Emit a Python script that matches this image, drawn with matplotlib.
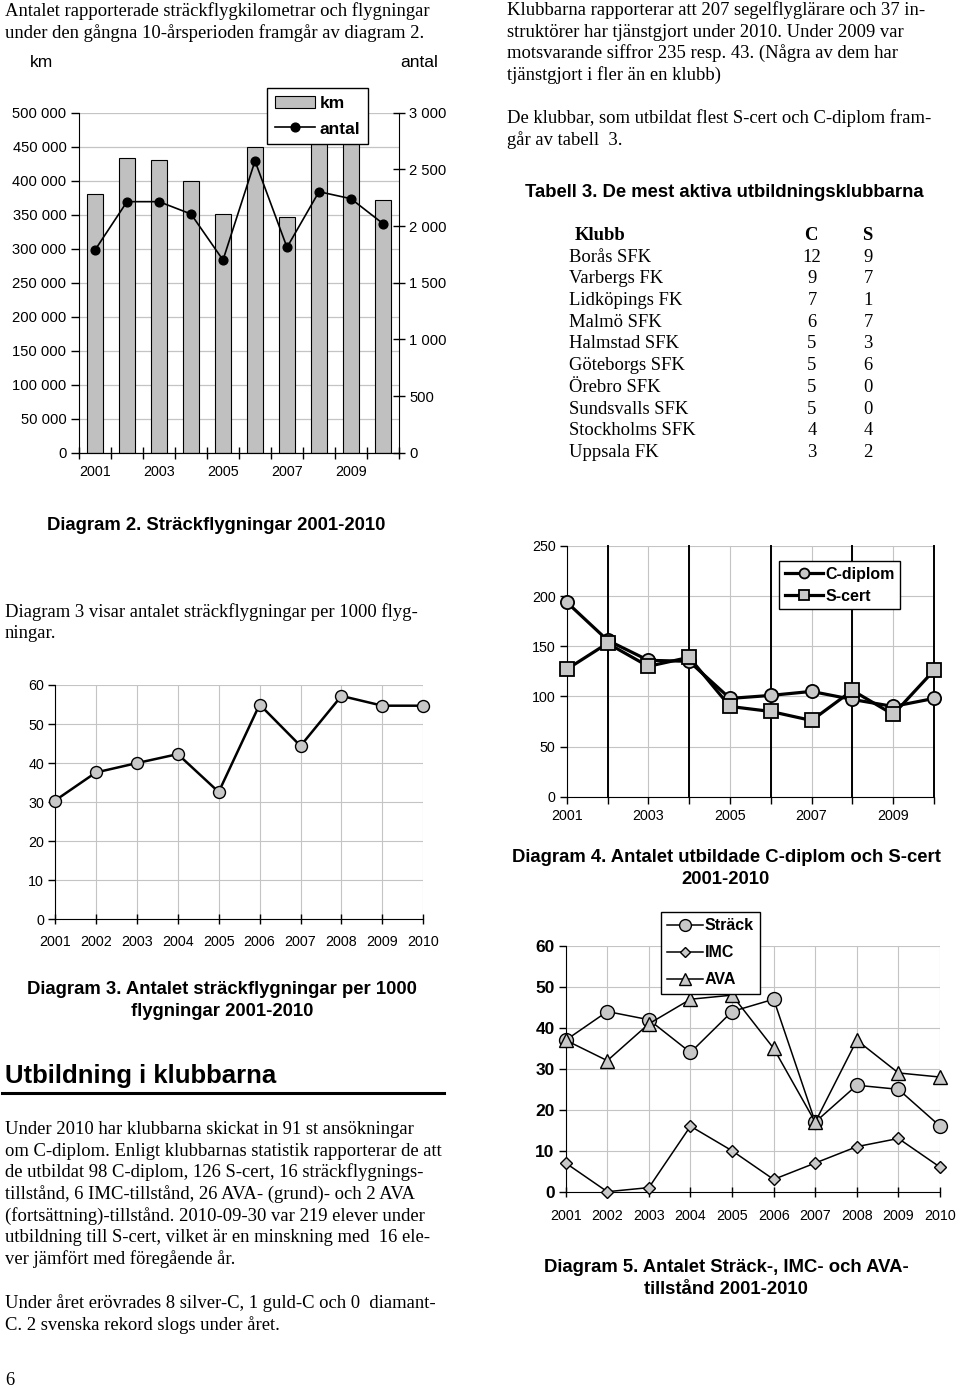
import numpy as np
import matplotlib
matplotlib.use("Agg")
import matplotlib.pyplot as plt
from matplotlib.ticker import FuncFormatter, MultipleLocator
from matplotlib.patches import Patch
from matplotlib.lines import Line2D

# Data read from the page
years = [2001, 2002, 2003, 2004, 2005, 2006, 2007, 2008, 2009, 2010]

# Diagram 2
km = [380000, 433000, 431000, 400000, 351000, 450000, 347000, 490000, 460000, 372000]
antal = [1788, 2215, 2215, 2106, 1700, 2574, 1812, 2303, 2241, 2021]

# Diagram 3
per_1000 = [30.4, 37.6, 40.0, 42.3, 32.6, 55.0, 44.4, 57.2, 54.7, 54.7]

# Diagram 4
c_diplom = [194, 156, 136, 135, 98, 101, 105, 97, 90, 98]
s_cert = [127, 153, 130, 139, 90, 85, 76, 106, 82, 126]

# Diagram 5
strack = [37, 44, 42, 34, 44, 47, 17, 26, 25, 16]
imc = [7, 0, 1, 16, 10, 3, 7, 11, 13, 6]
ava = [37, 32, 41, 47, 48, 35, 17, 37, 29, 28]

# Tabell 3
klubbar = ["Borås SFK", "Varbergs FK", "Lidköpings FK", "Malmö SFK", "Halmstad SFK",
           "Göteborgs SFK", "Örebro SFK", "Sundsvalls SFK", "Stockholms SFK", "Uppsala FK"]
tab_c = [12, 9, 7, 6, 5, 5, 5, 5, 4, 3]
tab_s = [9, 7, 1, 7, 3, 6, 0, 0, 4, 2]

W, H = 960, 1388
SERIF = "Liberation Serif"
SANS = "Liberation Sans"
plt.rcParams["font.family"] = SANS
GRID = "#c4c4c4"
FILL = "#c0c0c0"
BODY = 13.4

fig = plt.figure(figsize=(W / 100, H / 100), dpi=100)


def px_axes(l, t, r, b):
    return fig.add_axes([l / W, 1 - b / H, (r - l) / W, (b - t) / H])


def txt(x, y, s, size=BODY, family=SERIF, weight="normal", ha="left", va="baseline"):
    fig.text(x / W, 1 - y / H, s, fontsize=size, family=family, weight=weight, ha=ha, va=va)


def space_fmt(v, pos):
    return f"{int(round(v)):,}".replace(",", " ")


# ---------------- Text on the page ----------------
txt(5, 16, "Antalet rapporterade sträckflygkilometrar och flygningar")
txt(5, 38, "under den gångna 10-årsperioden framgår av diagram 2.")
txt(30, 67, "km", size=12.5, family=SANS)
txt(400, 67, "antal", size=12.5, family=SANS)

txt(216, 530, "Diagram 2. Sträckflygningar 2001-2010", size=13.3, family=SANS, weight="bold", ha="center")
txt(5, 617, "Diagram 3 visar antalet sträckflygningar per 1000 flyg-")
txt(5, 638, "ningar.")
txt(222, 990, "Diagram 3. Antalet sträckflygningar per 1000", size=13.3, family=SANS, weight="bold",
    ha="center", va="center")
txt(222, 1012, "flygningar 2001-2010", size=13.3, family=SANS, weight="bold", ha="center", va="center")

txt(5, 1083, "Utbildning i klubbarna", size=18.5, family=SANS, weight="bold")
fig.add_artist(Line2D([2 / W, 444 / W], [1 - 1093 / H, 1 - 1093 / H], color="black", lw=2.2))
body = ["Under 2010 har klubbarna skickat in 91 st ansökningar",
        "om C-diplom. Enligt klubbarnas statistik rapporterar de att",
        "de utbildat 98 C-diplom, 126 S-cert, 16 sträckflygnings-",
        "tillstånd, 6 IMC-tillstånd, 26 AVA- (grund)- och 2 AVA",
        "(fortsättning)-tillstånd. 2010-09-30 var 219 elever under",
        "utbildning till S-cert, vilket är en minskning med  16 ele-",
        "ver jämfört med föregående år."]
for i, line in enumerate(body):
    txt(5, 1134 + i * 21.7, line)
txt(5, 1308, "Under året erövrades 8 silver-C, 1 guld-C och 0  diamant-")
txt(5, 1330, "C. 2 svenska rekord slogs under året.")
txt(5, 1385, "6")

right = ["Klubbarna rapporterar att 207 segelflyglärare och 37 in-",
         "struktörer har tjänstgjort under 2010. Under 2009 var",
         "motsvarande siffror 235 resp. 43. (Några av dem har",
         "tjänstgjort i fler än en klubb)"]
for i, line in enumerate(right):
    txt(507, 15 + i * 21.7, line)
txt(507, 123, "De klubbar, som utbildat flest S-cert och C-diplom fram-")
txt(507, 145, "går av tabell  3.")
txt(525, 197, "Tabell 3. De mest aktiva utbildningsklubbarna", size=13.3, family=SANS, weight="bold")

txt(575, 240, "Klubb", weight="bold")
txt(811, 240, "C", weight="bold", ha="center")
txt(867, 240, "S", weight="bold", ha="center")
for i, (k, c, s) in enumerate(zip(klubbar, tab_c, tab_s)):
    y = 261.7 + i * 21.7
    txt(569, y, k)
    txt(812, y, str(c), ha="center")
    txt(868, y, str(s), ha="center")

txt(726, 858, "Diagram 4. Antalet utbildade C-diplom och S-cert", size=13.3, family=SANS, weight="bold",
    ha="center", va="center")
txt(726, 880, "2001-2010", size=13.3, family=SANS, weight="bold", ha="center", va="center")
txt(726, 1267, "Diagram 5. Antalet Sträck-, IMC- och AVA-", size=13.3, family=SANS, weight="bold",
    ha="center", va="center")
txt(726, 1289, "tillstånd 2001-2010", size=13.3, family=SANS, weight="bold", ha="center", va="center")

# ---------------- Diagram 2 ----------------
ax = px_axes(79, 112.7, 399, 452.7)
x = np.arange(len(years))
ax.bar(x, km, width=0.47, color=FILL, edgecolor="black", linewidth=0.8, zorder=2)
ax.set_xlim(-0.5, 9.5)
ax.set_ylim(0, 500000)
ax.yaxis.set_major_locator(MultipleLocator(50000))
ax.yaxis.set_major_formatter(FuncFormatter(space_fmt))
ax.grid(axis="y", color=GRID, lw=0.9, zorder=0)
ax.set_axisbelow(True)
ax.set_xticks(np.arange(-0.5, 10, 1))
ax.set_xticklabels([])
ax.set_xticks(x[::2], minor=True)
ax.set_xticklabels([str(y) for y in years[::2]], minor=True)
ax.tick_params(axis="x", which="major", direction="inout", length=9, width=1)
ax.tick_params(axis="x", which="minor", length=0, labelsize=10.3, pad=9)
ax.tick_params(axis="y", direction="out", length=6, width=1, labelsize=10.6, pad=3)
ax.spines["top"].set_visible(False)
ax.spines["right"].set_visible(False)

ax2 = ax.twinx()
ax2.plot(x, antal, color="black", lw=1.2, marker="o", ms=6.3, zorder=3)
ax2.set_ylim(0, 3000)
ax2.yaxis.set_major_locator(MultipleLocator(500))
ax2.yaxis.set_major_formatter(FuncFormatter(space_fmt))
ax2.tick_params(axis="y", direction="inout", length=9, width=1, labelsize=10.6, pad=3)
ax2.spines["top"].set_visible(False)
ax2.spines["left"].set_visible(False)
handles = [Patch(facecolor=FILL, edgecolor="black", linewidth=0.8),
           Line2D([], [], color="black", lw=1.2, marker="o", ms=6.3)]
leg = ax2.legend(handles, ["km", "antal"], loc="upper left",
                 bbox_to_anchor=(267 / W, 1 - 88 / H), bbox_transform=fig.transFigure,
                 prop={"family": SANS, "weight": "bold", "size": 12.5},
                 frameon=True, fancybox=False, framealpha=1, edgecolor="black",
                 handlelength=2.3, labelspacing=0.6, borderpad=0.45, handletextpad=0.3,
                 borderaxespad=0)
leg.get_frame().set_linewidth(1.0)
leg.set_zorder(10)

# ---------------- Diagram 3 ----------------
ax3 = px_axes(55, 685, 423.3, 919.3)
ax3.plot(years, per_1000, color="black", lw=1.8, marker="o", ms=8.6,
         mfc="#c8c8c8", mec="black", mew=1.0, zorder=3, clip_on=False)
ax3.set_xlim(2001, 2010)
ax3.set_ylim(0, 60)
ax3.set_xticks(years)
ax3.yaxis.set_major_locator(MultipleLocator(10))
ax3.grid(color=GRID, lw=0.8, zorder=0)
ax3.set_axisbelow(True)
ax3.tick_params(axis="x", direction="inout", length=7, width=1, labelsize=10.3, pad=8)
ax3.tick_params(axis="y", direction="out", length=5, width=1, labelsize=10.3, pad=3)
ax3.spines["top"].set_visible(False)
ax3.spines["right"].set_visible(False)

# ---------------- Diagram 4 ----------------
ax4 = px_axes(566.7, 546, 934, 796.7)
ax4.set_xlim(2001, 2010)
ax4.set_ylim(0, 250)
ax4.yaxis.set_major_locator(MultipleLocator(50))
ax4.grid(color=GRID, lw=0.8, zorder=0)
ax4.set_axisbelow(True)
for yr in years[1::2]:
    ax4.axvline(yr, color="black", lw=1.4, zorder=1, clip_on=False)
ax4.plot(years, c_diplom, color="black", lw=2.3, marker="o", ms=9.5,
         mfc="#c8c8c8", mec="black", mew=1.3, zorder=3, label="C-diplom", clip_on=False)
ax4.plot(years, s_cert, color="black", lw=2.3, marker="s", ms=9.5,
         mfc="#c8c8c8", mec="black", mew=1.3, zorder=3, label="S-cert", clip_on=False)
ax4.set_xticks(years)
ax4.set_xticklabels([str(y) if i % 2 == 0 else "" for i, y in enumerate(years)])
ax4.tick_params(axis="x", direction="out", length=5, width=1, labelsize=10.3, pad=4)
ax4.tick_params(axis="y", direction="out", length=5, width=1, labelsize=10.3, pad=3)
ax4.spines["top"].set_visible(False)
ax4.spines["right"].set_visible(False)
leg4 = ax4.legend(loc="upper left", bbox_to_anchor=(779 / W, 1 - 561 / H), bbox_transform=fig.transFigure,
                  prop={"family": SANS, "weight": "bold", "size": 11.5},
                  frameon=True, fancybox=False, framealpha=1, edgecolor="black",
                  handlelength=2.4, labelspacing=0.45, borderpad=0.35, handletextpad=0.15,
                  markerscale=0.75, borderaxespad=0)
leg4.get_frame().set_linewidth(1.0)
leg4.set_zorder(10)

# ---------------- Diagram 5 ----------------
ax5 = px_axes(565.7, 946, 940, 1191.7)
ax5.set_xlim(2001, 2010)
ax5.set_ylim(0, 60)
ax5.yaxis.set_major_locator(MultipleLocator(10))
ax5.grid(color=GRID, lw=0.8, zorder=0)
ax5.set_axisbelow(True)
mk = dict(color="black", lw=1.1, mfc="#c8c8c8", mec="black", mew=1.0, zorder=3, clip_on=False)
ax5.plot(years, strack, marker="o", ms=10, label="Sträck", **mk)
ax5.plot(years, imc, marker="D", ms=6.5, label="IMC", **mk)
ax5.plot(years, ava, marker="^", ms=10, label="AVA", **mk)
ax5.set_xticks(years)
ax5.tick_params(axis="x", direction="inout", length=7, width=1, labelsize=10.3, pad=9)
ax5.tick_params(axis="y", direction="out", length=5, width=1, labelsize=12.5, pad=3)
for lab in ax5.get_yticklabels():
    lab.set_fontweight("bold")
ax5.spines["top"].set_visible(False)
ax5.spines["right"].set_visible(False)
leg5 = ax5.legend(loc="upper left", bbox_to_anchor=(661 / W, 1 - 912 / H), bbox_transform=fig.transFigure,
                  prop={"family": SANS, "weight": "bold", "size": 11.5},
                  frameon=True, fancybox=False, framealpha=1, edgecolor="black",
                  handlelength=2.2, labelspacing=0.75, borderpad=0.4, handletextpad=0.15,
                  markerscale=0.85, borderaxespad=0)
leg5.get_frame().set_linewidth(1.0)
leg5.set_zorder(10)

fig.savefig("out.png", dpi=100)
